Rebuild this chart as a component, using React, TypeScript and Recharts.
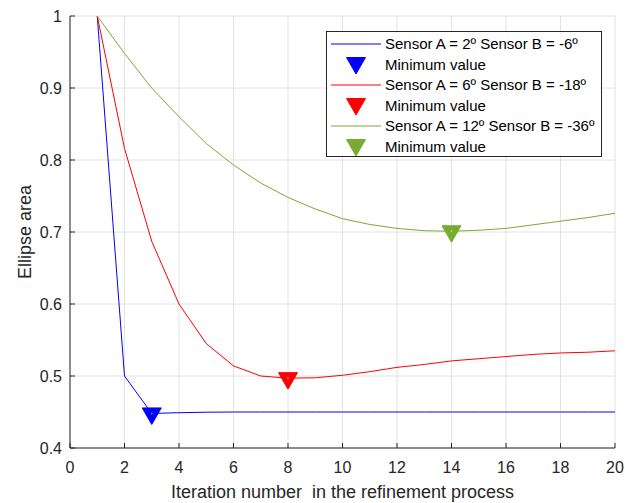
import React from 'react';
import { ComposedChart, Line, Scatter, XAxis, YAxis, CartesianGrid, Legend } from 'recharts';

const iterations = [1, 2, 3, 4, 5, 6, 7, 8, 9, 10, 11, 12, 13, 14, 15, 16, 17, 18, 19, 20];
const areaA2B6 = [1.0, 0.5, 0.448, 0.449, 0.4497, 0.45, 0.45, 0.45, 0.45, 0.45, 0.45, 0.45, 0.45, 0.45, 0.45, 0.45, 0.45, 0.45, 0.45, 0.45];
const areaA6B18 = [1.0, 0.816, 0.687, 0.6, 0.545, 0.514, 0.5, 0.497, 0.4975, 0.501, 0.506, 0.512, 0.516, 0.521, 0.524, 0.527, 0.53, 0.532, 0.533, 0.535];
const areaA12B36 = [1.0, 0.948, 0.9, 0.86, 0.823, 0.793, 0.768, 0.748, 0.732, 0.7185, 0.7105, 0.705, 0.7018, 0.701, 0.7024, 0.705, 0.71, 0.715, 0.72, 0.726];

const minA2B6 = [{ x: 3, y: 0.448 }];
const minA6B18 = [{ x: 8, y: 0.497 }];
const minA12B36 = [{ x: 14, y: 0.701 }];

const xTicks = [0, 2, 4, 6, 8, 10, 12, 14, 16, 18, 20];
const yTicks = [0.4, 0.5, 0.6, 0.7, 0.8, 0.9, 1];

const seriesNames = ['Sensor A = 2º Sensor B = -6º', 'Sensor A = 6º Sensor B = -18º', 'Sensor A = 12º Sensor B = -36º'];
const minLabel = 'Minimum value';
const seriesColors = ['#0000ff', '#ff0000', '#77ac30'];
const xLabel = 'Iteration number\u00a0 in the refinement process';
const yLabel = 'Ellipse area';

const FONT = '"Liberation Sans", Arial, Helvetica, sans-serif';
const AXIS_COLOR = '#262626';
const X_TICK_MARGIN = 14;
const Y_TICK_MARGIN = 8;
const TICK_LEN = 5;

const chartData = iterations.map((x, i) => ({
  x,
  a: areaA2B6[i],
  b: areaA6B18[i],
  c: areaA12B36[i],
}));
const minData = [minA2B6, minA6B18, minA12B36];

const triPoints = (cx: number, cy: number, w: number, h: number) =>
  `${cx - w / 2},${cy - h / 3} ${cx + w / 2},${cy - h / 3} ${cx},${cy + (2 * h) / 3}`;

const DownTriangle = (props: any) => {
  const { cx, cy, fill } = props;
  if (cx == null || cy == null) return <g />;
  return (
    <g>
      <polygon points={triPoints(cx, cy, 19, 16.5)} fill={fill} stroke={fill} strokeWidth={1} />
      <circle cx={cx} cy={cy} r={0.8} fill="#ffffff" opacity={0.6} />
    </g>
  );
};

const XTick = (props: any) => {
  const { x, y, payload } = props;
  const axisY = y - X_TICK_MARGIN;
  return (
    <g>
      <line x1={x} x2={x} y1={axisY} y2={axisY - TICK_LEN} stroke={AXIS_COLOR} strokeWidth={1} />
      <text x={x} y={y} dy="0.71em" textAnchor="middle" fill={AXIS_COLOR} fontSize={16} fontFamily={FONT}>
        {payload.value}
      </text>
    </g>
  );
};

const YTick = (props: any) => {
  const { x, y, payload } = props;
  const axisX = x + Y_TICK_MARGIN;
  const v = payload.value;
  const label = v === 1 ? '1' : Number(v).toFixed(1);
  return (
    <g>
      <line x1={axisX} x2={axisX + TICK_LEN} y1={y} y2={y} stroke={AXIS_COLOR} strokeWidth={1} />
      <text x={x} y={y} dy="0.355em" textAnchor="end" fill={AXIS_COLOR} fontSize={16} fontFamily={FONT}>
        {label}
      </text>
    </g>
  );
};

const LegendBox = () => {
  const rows: { kind: 'line' | 'marker'; color: string; text: string }[] = [];
  seriesNames.forEach((name, i) => {
    rows.push({ kind: 'line', color: seriesColors[i], text: name });
    rows.push({ kind: 'marker', color: seriesColors[i], text: minLabel });
  });
  return (
    <div
      style={{
        width: 276,
        height: 126,
        boxSizing: 'border-box',
        border: `1px solid ${AXIS_COLOR}`,
        background: '#ffffff',
        paddingTop: 2,
        fontFamily: FONT,
        fontSize: 15,
        color: '#000000',
      }}
    >
      {rows.map((r, i) => (
        <div key={i} style={{ display: 'flex', alignItems: 'center', height: 20.5 }}>
          <svg width={58} height={20} style={{ display: 'block', flex: 'none' }}>
            {r.kind === 'line' ? (
              <line x1={4} x2={54} y1={10} y2={10} stroke={r.color} strokeWidth={1} />
            ) : (
              <polygon points={triPoints(29, 8, 19, 16.5)} fill={r.color} stroke={r.color} />
            )}
          </svg>
          <span style={{ whiteSpace: 'nowrap', lineHeight: '20px' }}>{r.text}</span>
        </div>
      ))}
    </div>
  );
};

export default function App() {
  return (
    <div style={{ position: 'absolute', left: 0, top: 0, width: 625, height: 503, background: '#ffffff' }}>
      <ComposedChart
        width={625}
        height={503}
        data={chartData}
        margin={{ top: 16, right: 10, left: 0, bottom: 0 }}
        style={{ fontFamily: FONT }}
      >
        <CartesianGrid stroke="#e2e2e2" strokeWidth={1} />
        <XAxis
          dataKey="x"
          type="number"
          domain={[0, 20]}
          ticks={xTicks}
          interval={0}
          height={55}
          tickSize={0}
          tickMargin={X_TICK_MARGIN}
          tick={(p: any) => <XTick {...p} />}
          axisLine={{ stroke: AXIS_COLOR, strokeWidth: 1 }}
          label={{ value: xLabel, position: 'insideBottom', offset: 5, fill: AXIS_COLOR, fontSize: 18, fontFamily: FONT }}
        />
        <YAxis
          type="number"
          domain={[0.4, 1]}
          ticks={yTicks}
          interval={0}
          width={70}
          tickSize={0}
          tickMargin={Y_TICK_MARGIN}
          tick={(p: any) => <YTick {...p} />}
          axisLine={{ stroke: AXIS_COLOR, strokeWidth: 1 }}
          label={{
            value: yLabel,
            angle: -90,
            position: 'insideLeft',
            offset: 25,
            fill: AXIS_COLOR,
            fontSize: 18,
            fontFamily: FONT,
            style: { textAnchor: 'middle' },
          }}
        />
        <Line dataKey="a" type="linear" stroke={seriesColors[0]} strokeWidth={1} dot={false} isAnimationActive={false} name={seriesNames[0]} />
        <Line dataKey="b" type="linear" stroke={seriesColors[1]} strokeWidth={1} dot={false} isAnimationActive={false} name={seriesNames[1]} />
        <Line dataKey="c" type="linear" stroke={seriesColors[2]} strokeWidth={1} dot={false} isAnimationActive={false} name={seriesNames[2]} />
        {minData.map((d, i) => (
          <Scatter
            key={i}
            data={d}
            dataKey="y"
            name={minLabel}
            isAnimationActive={false}
            shape={(p: any) => <DownTriangle {...p} fill={seriesColors[i]} />}
          />
        ))}
        <Legend
          layout="vertical"
          align="center"
          verticalAlign="middle"
          content={() => <LegendBox />}
          wrapperStyle={{ left: 326, top: 31, width: 276, height: 126 }}
        />
      </ComposedChart>
    </div>
  );
}
